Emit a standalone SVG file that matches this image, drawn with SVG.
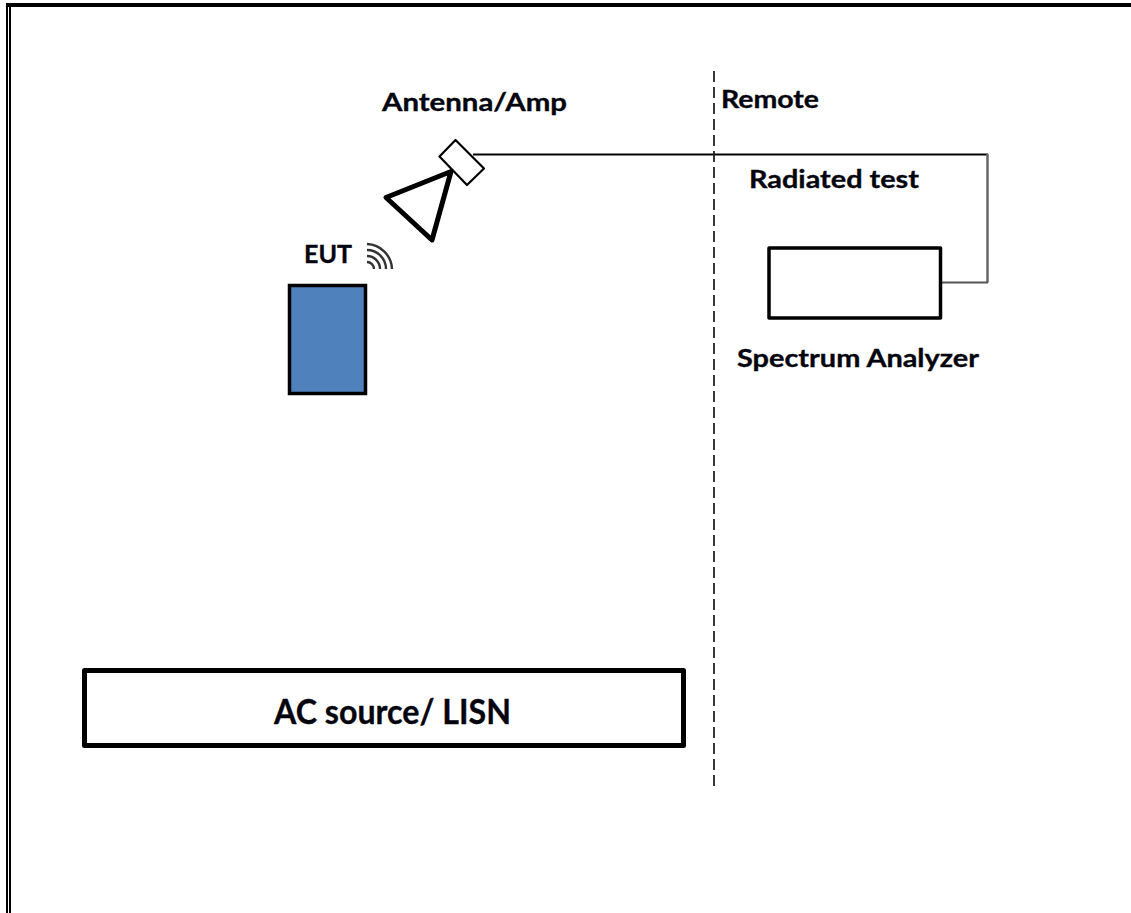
<svg xmlns="http://www.w3.org/2000/svg" width="1131" height="913" viewBox="0 0 1131 913">
<style>
.t{font-family:"Lato","Open Sans","Liberation Sans",sans-serif;font-weight:700;fill:#05050f;stroke:#05050f;stroke-width:.35px}
.s{font-size:24px}
.box{fill:#fff;stroke:#000;stroke-linejoin:round}
.w{fill:none;stroke:#333;stroke-width:2.400}
</style>
<rect width="1131" height="913" fill="#fff"/>
<g id="frame">
<rect x="6" y="3" width="1125" height="4" fill="#000"/>
<rect x="6" y="3" width="2" height="910" fill="#000"/>
<rect x="9" y="3" width="2" height="910" fill="#000"/>
</g>
<g id="connectors" fill="none">
<path d="M473 154.500H988" stroke="#000" stroke-width="1.800"/>
<path d="M987.500 154V282.500" stroke="#666" stroke-width="2.500"/>
<path d="M941 282.500H988" stroke="#555" stroke-width="2.200"/>
<path d="M714 71V786" stroke="#222" stroke-width="1.800" stroke-dasharray="11 5"/>
</g>
<g id="antenna">
<polygon class="box" stroke-width="2.200" points="455.500,140 484,168.500 467,185 439.500,156.500"/>
<polygon points="386,197.500 451,171.500 432,240" fill="#fff" stroke="#000" stroke-width="5" stroke-linejoin="round"/>
<text class="t s" x="382" y="111" textLength="185" lengthAdjust="spacingAndGlyphs">Antenna/Amp</text>
</g>
<g id="eut">
<rect x="289.500" y="285.500" width="76" height="108" fill="#4f81bd" stroke="#000" stroke-width="3.500"/>
<text class="t" font-size="24" x="304" y="263" textLength="48" lengthAdjust="spacingAndGlyphs">EUT</text>
<path class="w" d="M367 250A19 19 0 0 1 386 269M367 256A13 13 0 0 1 380 269M367 262A7 7 0 0 1 374 269M367 244A26 26 0 0 1 392 269"/>
</g>
<g id="remote">
<text class="t s" x="721" y="108" textLength="98" lengthAdjust="spacingAndGlyphs">Remote</text>
<text class="t s" x="749" y="188" textLength="170" lengthAdjust="spacingAndGlyphs">Radiated test</text>
</g>
<g id="analyzer">
<rect class="box" x="769" y="248" width="171.500" height="70" stroke-width="3.500"/>
<text class="t s" x="737" y="367" textLength="242" lengthAdjust="spacingAndGlyphs">Spectrum Analyzer</text>
</g>
<g id="ac-source">
<rect class="box" x="84.500" y="670.500" width="599" height="75" stroke-width="5"/>
<text class="t" font-size="35" x="274" y="724" textLength="237" lengthAdjust="spacingAndGlyphs">AC source/ LISN</text>
</g>
</svg>
